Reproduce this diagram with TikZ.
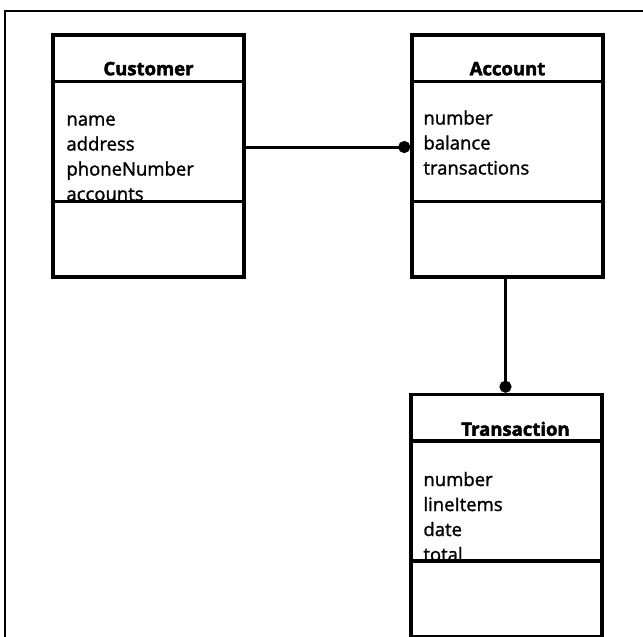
\documentclass[tikz,border=0pt]{standalone}
\usepackage{fontspec}
\setmainfont{Open Sans}[UprightFeatures={FakeBold=1.4}, BoldFeatures={FakeBold=2.5}]
\usetikzlibrary{positioning, arrows.meta}
\tikzset{
        x=1pt, y=-1pt, % one unit is one pixel of the page, y runs down
        classbox/.style={draw, line width=3.5pt, minimum width=191pt, minimum height=242pt, inner sep=0pt}, % the outline of a class
        classname/.style={font=\fontsize{18.5}{20}\selectfont\bfseries, inner sep=0pt, anchor=base}, % the name in the top part
        attrs/.style={font=\fontsize{18.5}{25}\selectfont, align=left, inner sep=0pt, anchor=north west}, % the list of attributes
        assoc/.style={line width=3pt, -{Circle[length=12pt]}}, % association with a filled dot at its end
        }

\begin{document}
\begin{tikzpicture}
        \useasboundingbox (0,0) rectangle (643,637);
        % frame round the picture
        \draw[line width=2pt] (5,637) -- (5,11) -- (643,11);

        % the three classes
        \node[classbox] (Customer) at (148.5,156) {};
        \node[classbox] (Account) at (507.5,156) {};
        \node[classbox] (Transaction) at (506.5,515.5) {};

        % names
        \node[classname] (CustomerName) at ([yshift=-42pt]Customer.north) {Customer};
        \node[classname] (AccountName) at ([yshift=-42pt]Account.north) {Account};
        \node[classname] (TransactionName) at ([xshift=9pt,yshift=-43pt]Transaction.north) {Transaction};

        % dividers
        \foreach \c in {Customer, Account, Transaction} {
            \draw[line width=3.5pt] ([yshift=-48pt]\c.north west) -- ([yshift=-48pt]\c.north east);
            \draw[line width=3.5pt] ([yshift=-168pt]\c.north west) -- ([yshift=-168pt]\c.north east);
        }

        % attributes
        \node[attrs] (CustomerAttrs) at ([xshift=15pt,yshift=-82pt]Customer.north west) {name\\address\\phoneNumber\\accounts};
        \node[attrs] (AccountAttrs) at ([xshift=13pt,yshift=-77pt]Account.north west) {number\\balance\\transactions};
        \node[attrs] (TransactionAttrs) at ([xshift=14pt,yshift=-79pt]Transaction.north west) {number\\lineItems\\date\\total};

        % associations
        \draw[assoc] ([yshift=9pt]Customer.east) -- ([yshift=9pt]Account.west);
        \draw[assoc] ([xshift=-2pt]Account.south) -- ([xshift=-2pt]Account.south |- Transaction.north);
\end{tikzpicture}
\end{document}
